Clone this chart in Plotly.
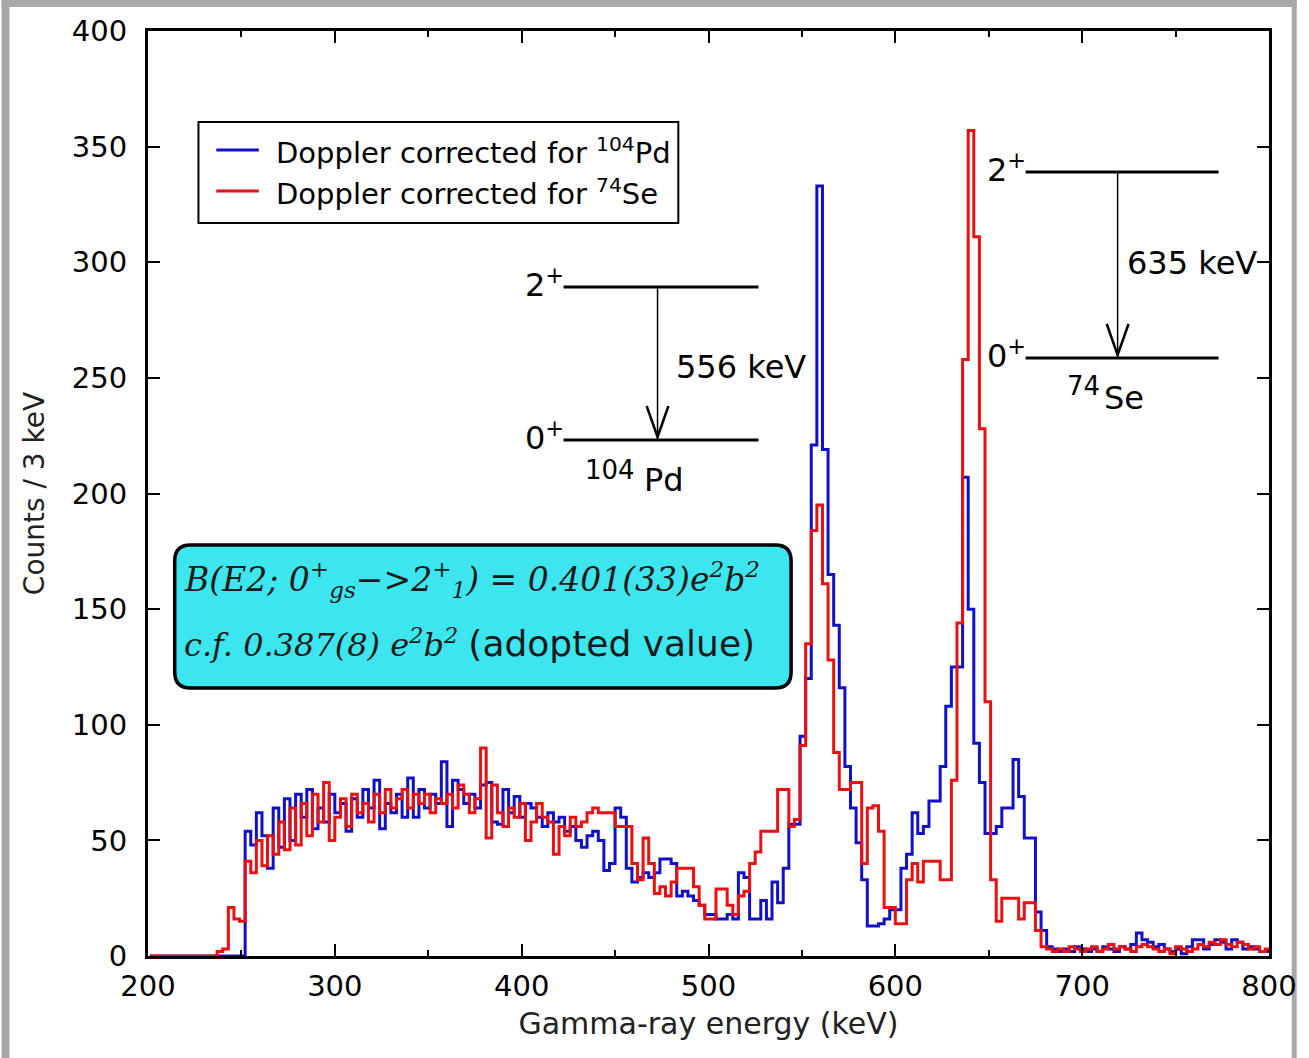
import plotly.graph_objects as go

# ---------------- data (counts per 3 keV bin) ----------------
bin_start = 201
bin_width = 3

counts_pd = [  # Doppler corrected for 104Pd (blue)
    0, 0, 0, 0, 0, 0, 0, 0, 0, 0, 0, 0, 0, 0, 0, 0, 0,
    54, 48, 62, 52, 38, 64, 47, 68, 50, 70,
    60, 72, 55, 64, 58, 70, 62, 66, 54, 68,
    60, 72, 64, 76, 55, 66, 62, 70, 60, 77,
    60, 72, 64, 70, 66, 84, 56, 76, 72, 66,
    70, 64, 74, 75, 58, 57, 72, 62, 69, 60,
    66, 64, 60, 56, 62, 58, 60, 54, 56, 50,
    47, 52, 54, 50, 37, 40, 64, 60, 38, 32,
    34, 36, 34, 36, 42, 42, 40, 26, 28, 26,
    24, 22, 18, 18, 16, 16, 18, 16, 36, 34,
    16, 16, 24, 16, 32, 23, 38, 57, 57, 95,
    120, 221, 333, 219, 165, 143, 116, 82, 64, 49,
    33, 13, 13, 14, 16, 20, 20, 38, 44, 62,
    53, 56, 67, 67, 82, 108, 125, 125, 207, 150,
    92, 75, 53, 53, 56, 64, 64, 85, 69, 51,
    51, 19, 11, 4, 3, 2, 3, 2, 4, 3,
    2, 3, 2, 4, 3, 2, 4, 3, 5, 10,
    7, 6, 4, 5, 3, 2, 3, 1, 4, 7,
    7, 3, 5, 7, 6, 3, 7, 6, 3, 4,
    3, 2, 2,
]

counts_se = [  # Doppler corrected for 74Se (red)
    0, 0, 0, 0, 0, 0, 0, 0, 0, 0, 0, 0, 2, 3, 21, 16, 15,
    41, 36, 50, 39, 52, 44, 58, 46, 64, 48,
    66, 52, 70, 58, 75, 50, 60, 68, 56, 70,
    62, 66, 58, 70, 62, 72, 64, 68, 72, 64,
    70, 66, 70, 62, 68, 66, 70, 64, 74, 70,
    62, 68, 90, 51, 74, 62, 56, 64, 60, 66,
    50, 58, 66, 60, 58, 44, 56, 52, 60, 56,
    58, 62, 64, 62, 62, 62, 56, 56, 56, 40,
    33, 51, 40, 27, 30, 26, 32, 38, 38, 38,
    30, 22, 16, 16, 29, 29, 22, 18, 26, 28,
    40, 45, 54, 54, 54, 72, 72, 56, 59, 91,
    135, 184, 195, 161, 128, 88, 72, 72, 75, 75,
    40, 64, 65, 54, 21, 21, 14, 14, 33, 40,
    32, 41, 41, 41, 33, 33, 76, 144, 258, 357,
    311, 228, 110, 33, 15, 25, 25, 25, 16, 23,
    23, 11, 4, 3, 2, 3, 2, 4, 3, 2,
    3, 4, 2, 3, 5, 3, 4, 3, 2, 4,
    5, 4, 3, 2, 3, 1, 4, 3, 2, 3,
    5, 4, 6, 5, 7, 5, 4, 6, 5, 3,
    4, 2, 3,
]

x_ticks = [200, 300, 400, 500, 600, 700, 800]
y_ticks = [0, 50, 100, 150, 200, 250, 300, 350, 400]

legend_pd = "Doppler corrected for <sup>104</sup>Pd"
legend_se = "Doppler corrected for <sup>74</sup>Se"

BLUE = "#1010c8"
RED = "#e81010"

# ---------------- geometry helpers (pixel -> paper) ----------------
PL, PR, PT, PB = 148, 1281, 31, 956


def xp(px):
    return (px - PL) / (PR - PL)


def yp(py):
    return (PB - py) / (PB - PT)


def step_xy(counts):
    n = len(counts)
    xs = [bin_start + bin_width * i for i in range(n + 1)]
    ys = list(counts) + [counts[-1]]
    return xs, ys


SANS = "DejaVu Sans, Verdana, sans-serif"
SERIF = "DejaVu Serif, serif"

fig = go.Figure()
xb, yb = step_xy(counts_pd)
fig.add_trace(go.Scatter(x=xb, y=yb, mode="lines", line_shape="hv",
                         line=dict(color=BLUE, width=3), name=legend_pd, showlegend=False))
xr, yr = step_xy(counts_se)
fig.add_trace(go.Scatter(x=xr, y=yr, mode="lines", line_shape="hv",
                         line=dict(color=RED, width=3), name=legend_se, showlegend=False))

shapes = []
annotations = []

# outer gray frame of the picture
for (x0, y0, x1, y1) in [(0, 0, 8, 1058), (0, 0, 1309, 7), (1304, 0, 1309, 1058)]:
    shapes.append(dict(type="rect", xref="paper", yref="paper",
                       x0=xp(x0), x1=xp(x1), y0=yp(y0), y1=yp(y1),
                       fillcolor="#a8a8a8", line=dict(width=0), layer="below"))

# ----- legend box (drawn by hand to match the reference spacing) -----
shapes.append(dict(type="rect", xref="paper", yref="paper",
                   x0=xp(199), x1=xp(684), y0=yp(122), y1=yp(223),
                   fillcolor="white", line=dict(color="black", width=2), layer="above"))
for yy, col, txt in ((150, BLUE, legend_pd), (191, RED, legend_se)):
    shapes.append(dict(type="line", xref="paper", yref="paper",
                       x0=xp(217), x1=xp(260), y0=yp(yy), y1=yp(yy),
                       line=dict(color=col, width=3), layer="above"))
    annotations.append(dict(xref="paper", yref="paper", x=xp(275), y=yp(yy + 1),
                            xanchor="left", yanchor="middle", showarrow=False,
                            font=dict(family=SANS, size=29, color="black"), text=txt))

# ----- cyan rounded info box -----
bx0, bx1, by0, by1, r = 175, 798, 545, 688, 16
path = (f"M {xp(bx0 + r)},{yp(by0)} L {xp(bx1 - r)},{yp(by0)} "
        f"Q {xp(bx1)},{yp(by0)} {xp(bx1)},{yp(by0 + r)} "
        f"L {xp(bx1)},{yp(by1 - r)} Q {xp(bx1)},{yp(by1)} {xp(bx1 - r)},{yp(by1)} "
        f"L {xp(bx0 + r)},{yp(by1)} Q {xp(bx0)},{yp(by1)} {xp(bx0)},{yp(by1 - r)} "
        f"L {xp(bx0)},{yp(by0 + r)} Q {xp(bx0)},{yp(by0)} {xp(bx0 + r)},{yp(by0)} Z")
shapes.append(dict(type="path", xref="paper", yref="paper", path=path,
                   fillcolor="#3de6ee", line=dict(color="black", width=3.5), layer="above"))

annotations.append(dict(
    xref="paper", yref="paper", x=xp(182), y=yp(580), xanchor="left", yanchor="middle",
    showarrow=False, font=dict(family=SERIF, size=33, color="#1a1a1a"),
    text="<i>B(E2; 0<sup>+</sup><sub>gs</sub>\u2212>2<sup>+</sup><sub>1</sub>) = 0.401(33)e<sup>2</sup>b<sup>2</sup></i>"))
annotations.append(dict(
    xref="paper", yref="paper", x=xp(182), y=yp(643), xanchor="left", yanchor="middle",
    showarrow=False, font=dict(family=SERIF, size=32, color="#1a1a1a"),
    text=("<i>c.f. 0.387(8) e<sup>2</sup>b<sup>2</sup></i> "
          "<span style='font-family:DejaVu Sans, Verdana, sans-serif;font-size:36px'>(adopted value)</span>")))


def level_scheme(lx0, lx1, y_up, y_low, ax, gamma_label, gx, gy, mass, mx, my, elem, ex, ey):
    for yy in (y_up, y_low):
        shapes.append(dict(type="line", xref="paper", yref="paper",
                           x0=xp(lx0), x1=xp(lx1), y0=yp(yy), y1=yp(yy),
                           line=dict(color="black", width=3)))
    shapes.append(dict(type="line", xref="paper", yref="paper",
                       x0=xp(ax), x1=xp(ax), y0=yp(y_up), y1=yp(y_low - 2),
                       line=dict(color="black", width=1.5)))
    shapes.append(dict(type="path", xref="paper", yref="paper",
                       path=(f"M {xp(ax - 11)},{yp(y_low - 34)} L {xp(ax)},{yp(y_low - 3)} "
                             f"L {xp(ax + 11)},{yp(y_low - 34)}"),
                       line=dict(color="black", width=2.5)))
    for txt, yy in (("2<sup>+</sup>", y_up), ("0<sup>+</sup>", y_low)):
        annotations.append(dict(xref="paper", yref="paper", x=xp(lx0 + 2), y=yp(yy - 4),
                                xanchor="right", yanchor="middle", showarrow=False,
                                font=dict(family=SANS, size=32, color="black"), text=txt))
    annotations.append(dict(xref="paper", yref="paper", x=xp(gx), y=yp(gy),
                            xanchor="left", yanchor="middle", showarrow=False,
                            font=dict(family=SANS, size=32, color="black"), text=gamma_label))
    annotations.append(dict(xref="paper", yref="paper", x=xp(mx), y=yp(my),
                            xanchor="left", yanchor="middle", showarrow=False,
                            font=dict(family=SANS, size=26, color="black"), text=mass))
    annotations.append(dict(xref="paper", yref="paper", x=xp(ex), y=yp(ey),
                            xanchor="left", yanchor="middle", showarrow=False,
                            font=dict(family=SANS, size=32, color="black"), text=elem))


level_scheme(568, 765, 287, 440, 663, "556 keV", 680, 367, "104", 588, 470, "Pd", 647, 480)
level_scheme(1035, 1230, 172, 358, 1128, "635 keV", 1135, 263, "74", 1075, 386, "Se", 1112, 398)

fig.update_layout(
    width=1309, height=1058,
    margin=dict(l=PL, r=1309 - PR, t=PT, b=1058 - PB),
    paper_bgcolor="white", plot_bgcolor="white",
    font=dict(family=SANS, color="black"),
    showlegend=False,
    shapes=shapes, annotations=annotations,
)

fig.update_xaxes(
    range=[200, 800], tickvals=x_ticks, ticktext=[str(v) for v in x_ticks],
    ticks="inside", ticklen=12, tickwidth=2, tickcolor="black",
    minor=dict(dtick=50, ticks="inside", ticklen=6, tickwidth=2, tickcolor="black"),
    showline=True, linewidth=3, linecolor="black", mirror="ticks",
    showgrid=False, zeroline=False,
    tickfont=dict(family=SANS, size=29, color="black"), ticklabelstandoff=2,
    title=dict(text="Gamma-ray energy (keV)", font=dict(family=SANS, size=30, color="#222"),
               standoff=12),
)
fig.update_yaxes(
    range=[0, 400], tickvals=y_ticks, ticktext=[str(v) for v in y_ticks],
    ticks="inside", ticklen=12, tickwidth=2, tickcolor="black",
    showline=True, linewidth=3, linecolor="black", mirror="ticks",
    showgrid=False, zeroline=False,
    tickfont=dict(family=SANS, size=29, color="black"), ticklabelstandoff=12,
    title=dict(text="Counts / 3 keV", font=dict(family=SANS, size=28, color="#222"),
               standoff=20),
)

fig.write_html("out.html")
